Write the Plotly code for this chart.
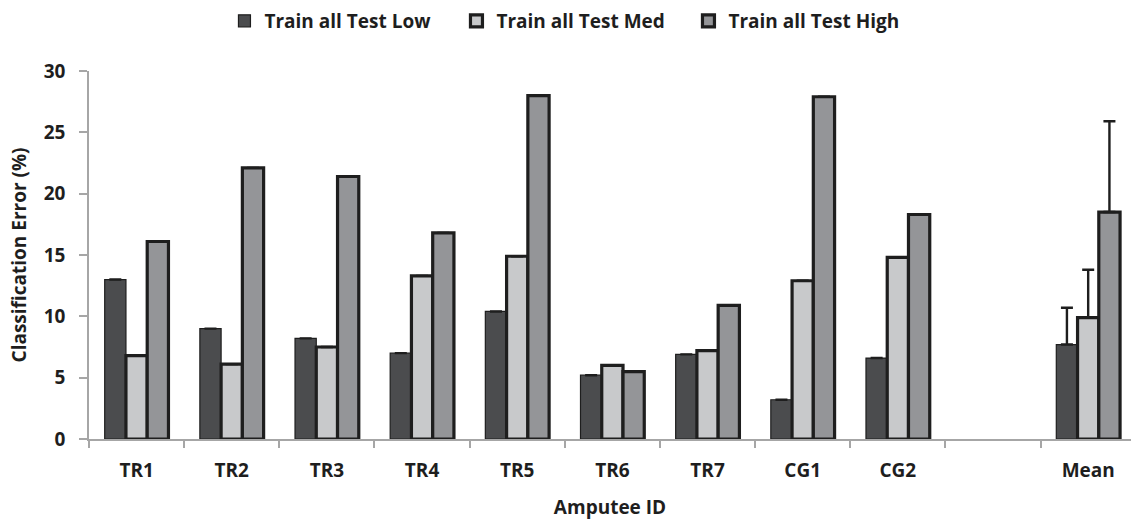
import plotly.graph_objects as go

categories = ["TR1", "TR2", "TR3", "TR4", "TR5", "TR6", "TR7", "CG1", "CG2", " ", "Mean"]
test_low = [13.0, 9.0, 8.2, 7.0, 10.4, 5.2, 6.9, 3.2, 6.6, None, 7.7]
test_med = [6.8, 6.1, 7.5, 13.3, 14.9, 6.0, 7.2, 12.9, 14.8, None, 9.9]
test_high = [16.1, 22.1, 21.4, 16.8, 28.0, 5.5, 10.9, 27.9, 18.3, None, 18.5]
err_low = [0, 0, 0, 0, 0, 0, 0, 0, 0, 0, 3.0]
err_med = [0, 0, 0, 0, 0, 0, 0, 0, 0, 0, 3.9]
err_high = [0, 0, 0, 0, 0, 0, 0, 0, 0, 0, 7.4]
series_names = ["Train all Test Low", "Train all Test Med", "Train all Test High"]

colors = ["#4b4c4e", "#c8c9cb", "#949598"]
line_widths = [1.2, 3.2, 3.2]

fig = go.Figure()
for name, vals, errs, col, lw in zip(series_names, [test_low, test_med, test_high],
                                      [err_low, err_med, err_high], colors, line_widths):
    fig.add_trace(go.Bar(
        x=categories, y=vals, name=name,
        marker=dict(color=col, line=dict(color="#1e1e1e", width=lw)),
        error_y=dict(type="data", array=errs, arrayminus=[0] * len(errs), symmetric=False,
                     color="#1e1e1e", thickness=2.4, width=6),
    ))

font_family = "Open Sans"
fig.update_layout(
    width=1132, height=524,
    margin=dict(l=89, r=1, t=71, b=85),
    paper_bgcolor="white", plot_bgcolor="white",
    barmode="group", bargap=0.33, bargroupgap=0,
    font=dict(family=font_family, size=19, color="#1e1e1e", weight="bold"),
    showlegend=True,
    legend=dict(orientation="h", x=0.13, xanchor="left", y=1.136, yanchor="middle",
                font=dict(size=19, weight="bold"), itemwidth=30, entrywidth=187,
                traceorder="normal"),
    xaxis=dict(
        type="category", categoryorder="array", categoryarray=categories,
        range=[-0.5, 10.45], automargin=False,
        showline=True, linecolor="#a6a6a6", linewidth=1.5,
        ticks="outside", tickson="boundaries", ticklen=7, tickcolor="#a6a6a6", tickwidth=1.5,
        tickfont=dict(size=19, weight="bold"), ticklabelstandoff=13,
        title=dict(text="Amputee ID", font=dict(size=19, weight="bold"), standoff=19),
        showgrid=False,
    ),
    yaxis=dict(
        range=[0, 30], tickvals=[0, 5, 10, 15, 20, 25, 30], automargin=False,
        showline=True, linecolor="#a6a6a6", linewidth=1.5,
        ticks="outside", ticklen=8, tickcolor="#a6a6a6", tickwidth=1.5,
        tickfont=dict(size=19, weight="bold"), ticklabelstandoff=10,
        title=dict(text="Classification Error (%)", font=dict(size=19, weight="bold"), standoff=12),
        showgrid=False, zeroline=False,
    ),
)

fig.write_html("out.html", config={"displayModeBar": False},
               post_script="document.body.style.margin='0px';")
